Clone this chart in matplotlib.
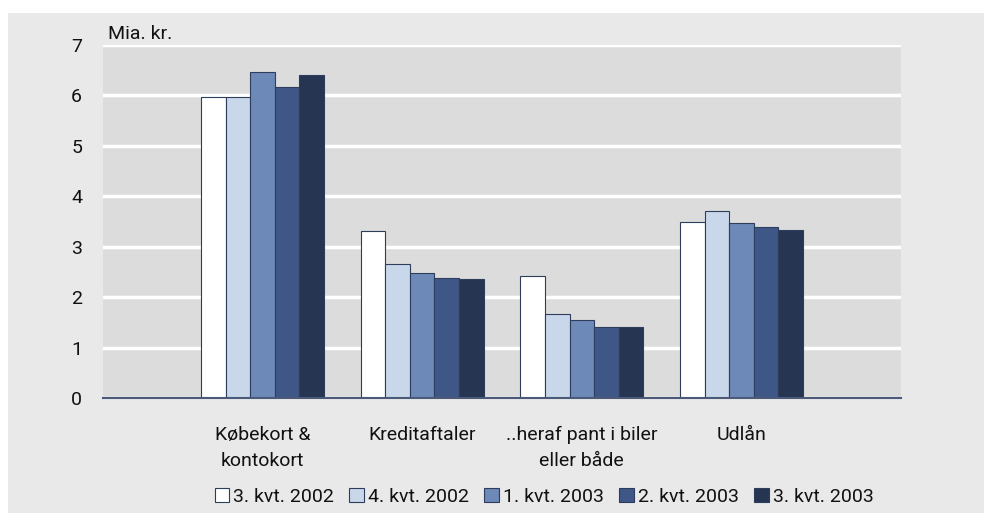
import matplotlib
matplotlib.use('Agg')
import matplotlib.pyplot as plt
import numpy as np
from matplotlib.patches import Rectangle

plt.rcParams['font.family'] = ['Roboto', 'DejaVu Sans']

categories = ['Købekort &\nkontokort', 'Kreditaftaler', '..heraf pant i biler\neller både', 'Udlån']
series = ['3. kvt. 2002', '4. kvt. 2002', '1. kvt. 2003', '2. kvt. 2003', '3. kvt. 2003']
q3_2002 = [5.97, 3.31, 2.42, 3.49]
q4_2002 = [5.97, 2.66, 1.67, 3.71]
q1_2003 = [6.47, 2.48, 1.55, 3.47]
q2_2003 = [6.17, 2.38, 1.41, 3.39]
q3_2003 = [6.41, 2.36, 1.40, 3.33]
values = [q3_2002, q4_2002, q1_2003, q2_2003, q3_2003]

colors = ['#FFFFFF', '#C9D7EA', '#6D89B8', '#3E5787', '#263552']
edge = '#2E3D5C'
txtc = '#111111'

fig = plt.figure(figsize=(9.84, 5.13), dpi=100)
fig.patch.set_facecolor('white')
# outer grey panel
fig.add_artist(Rectangle((8/984, 0), 1, (513-13)/513, transform=fig.transFigure,
                         fc='#E9E9E9', ec='none', zorder=0))

ax = fig.add_axes([103/984, (513-398)/513, (901-103)/984, (398-45)/513])
ax.set_facecolor('#DCDCDC')

x = np.arange(1, len(categories) + 1)
w = 0.154
for i, (s, v) in enumerate(zip(series, values)):
    ax.bar(x + (i - 2) * w, v, width=w, color=colors[i], edgecolor=edge,
           linewidth=0.8, label=s, zorder=3)

ax.set_xlim(0, 5)
ax.set_ylim(0, 7)
ax.set_yticks(range(0, 8))
ax.yaxis.grid(True, color='white', lw=2.5, zorder=1)
ax.set_axisbelow(True)
for sp in ['top', 'right', 'left']:
    ax.spines[sp].set_visible(False)
ax.spines['bottom'].set_color('#4A5A78')
ax.spines['bottom'].set_linewidth(1.5)
ax.spines['bottom'].set_zorder(4)

ax.set_xticks(x)
ax.set_xticklabels(categories, fontsize=14, color=txtc, linespacing=1.6)
ax.tick_params(axis='x', length=0, pad=20)
ax.tick_params(axis='y', length=0, pad=15, labelsize=14, labelcolor=txtc)

fig.text(108/984, (513-39)/513, 'Mia. kr.', fontsize=14, color=txtc, ha='left', va='baseline')

leg = fig.legend(loc='center', bbox_to_anchor=(544/984, 16/513), ncol=5, frameon=False,
                 fontsize=14, handlelength=0.75, handleheight=0.75, handletextpad=0.2,
                 columnspacing=0.8, labelcolor=txtc)

fig.savefig('out.png', dpi=100, facecolor=fig.get_facecolor())
